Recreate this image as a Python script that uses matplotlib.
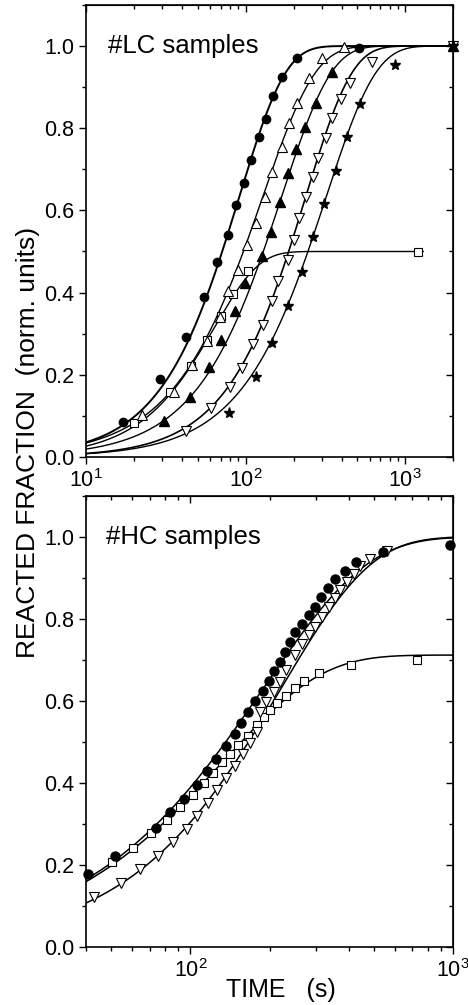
import numpy as np
import matplotlib
matplotlib.use("Agg")
import matplotlib.pyplot as plt
from matplotlib.ticker import MultipleLocator, NullFormatter, LogLocator

plt.rcParams["font.family"] = ["Liberation Sans", "DejaVu Sans"]
plt.rcParams["mathtext.default"] = "regular"

# ---- #LC samples (top panel) ----
lc_circle_t = [17.1, 29.3, 42.4, 55.2, 66.4, 77.1, 87.4, 98.2, 108.6, 121.3, 134.9, 149.3, 170.2, 211.5, 511]
lc_circle_f = [0.086, 0.189, 0.291, 0.389, 0.474, 0.540, 0.612, 0.666, 0.722, 0.779, 0.822, 0.878, 0.925, 0.972, 0.996]

lc_tri_up_t = [22.4, 35.4, 46.2, 57.4, 69.6, 77.8, 89.5, 102.5, 115.6, 131.6, 147.2, 168.4, 187.2, 211.5, 250, 303.6, 415]
lc_tri_up_f = [0.102, 0.159, 0.224, 0.283, 0.340, 0.405, 0.455, 0.517, 0.569, 0.633, 0.694, 0.755, 0.812, 0.861, 0.921, 0.970, 0.998]

lc_tri_fill_t = [30.9, 44.6, 58.8, 70.6, 86.5, 98.6, 127.4, 145.1, 164.3, 185.6, 206.3, 235, 275.5, 347.5, 2000]
lc_tri_fill_f = [0.088, 0.147, 0.220, 0.285, 0.355, 0.423, 0.489, 0.548, 0.621, 0.690, 0.749, 0.804, 0.861, 0.937, 1.0]

lc_tri_down_t = [42.4, 60.9, 79.7, 94.8, 111.2, 127.9, 147.2, 160.6, 184.5, 201.3, 216.4, 238.5, 265, 286.6,
                 318.6, 347.5, 395.6, 451, 617.6, 2000]
lc_tri_down_f = [0.064, 0.118, 0.170, 0.217, 0.275, 0.321, 0.380, 0.429, 0.479, 0.528, 0.581, 0.632, 0.682, 0.728,
                 0.775, 0.824, 0.870, 0.911, 0.962, 1.0]

lc_star_t = [78.5, 116.1, 147.2, 184.5, 225, 265, 310.7, 371.7, 431.8, 523.4, 865, 2000]
lc_star_f = [0.108, 0.195, 0.278, 0.367, 0.451, 0.535, 0.616, 0.696, 0.778, 0.858, 0.954, 1.0]

lc_square_t = [20.1, 33.4, 45.7, 57.4, 70.3, 83.2, 103.4, 1213]
lc_square_f = [0.082, 0.159, 0.221, 0.285, 0.343, 0.396, 0.452, 0.498]

# Avrami fit parameters (amplitude, tau [s], exponent), estimated from the curves
lc_fit_amp = [1.0, 1.0, 1.0, 1.0, 1.0, 0.5]
lc_fit_tau = [91.2, 128, 168, 238, 320, 64]
lc_fit_n = [1.5, 1.32, 1.4, 1.5, 1.4, 1.57]
lc_fit_tmax = [2000, 2000, 2000, 2000, 2000, 1300]
lc_fit_lw = [1.4, 1.0, 1.0, 1.2, 1.0, 1.0]

# ---- #HC samples (bottom panel) ----
hc_circle_t = [40.7, 51.4, 73.6, 83.9, 94.3, 106.0, 115.7, 125.6, 136.7, 147.4, 156.3, 166.2, 176.6, 189.0, 198.5,
               208.6, 219.9, 228.4, 239.9, 250.7, 265.9, 281.8, 297.0, 314.8, 334.0, 355.9, 386.1, 427.7, 543.3, 974]
hc_circle_f = [0.178, 0.222, 0.291, 0.329, 0.361, 0.395, 0.430, 0.459, 0.491, 0.520, 0.547, 0.574, 0.601, 0.624,
               0.649, 0.674, 0.696, 0.719, 0.743, 0.768, 0.788, 0.810, 0.830, 0.854, 0.875, 0.898, 0.918, 0.938,
               0.963, 0.980]

hc_square_t = [50.4, 60.5, 70.5, 81.5, 91.6, 101.8, 112.3, 122.0, 132.4, 141.9, 151.3, 165.2, 179.3, 190.0, 200.3,
               213.6, 230.4, 249.3, 271.4, 307.5, 408.3, 731.6]
hc_square_f = [0.207, 0.241, 0.277, 0.310, 0.342, 0.371, 0.399, 0.424, 0.450, 0.471, 0.493, 0.515, 0.541, 0.560,
               0.578, 0.596, 0.612, 0.631, 0.649, 0.669, 0.688, 0.700]

hc_tri_t = [42.9, 54.2, 64.2, 75.1, 85.9, 96.6, 106.0, 116.3, 126.3, 136.7, 148.3, 158.7, 168.1, 179.3, 184.6,
            194.5, 207.4, 218.6, 231.2, 250.7, 265.9, 281.8, 297.0, 316.8, 335.7, 353.8, 371.8, 394.3, 417.8,
            443.0, 483.3, 559.7]
hc_tri_f = [0.123, 0.155, 0.190, 0.223, 0.255, 0.288, 0.320, 0.352, 0.383, 0.413, 0.442, 0.471, 0.497, 0.525,
            0.574, 0.598, 0.623, 0.647, 0.676, 0.712, 0.738, 0.761, 0.781, 0.806, 0.829, 0.850, 0.871, 0.890,
            0.909, 0.928, 0.946, 0.967]

hc_fit_amp = [1.0, 0.712, 1.0]
hc_fit_tau = [190, 132, 222]
hc_fit_n = [1.1, 1.15, 1.27]


def avrami(t, amp, tau, n):
    return amp * (1 - np.exp(-(t / tau) ** n))


def style_axis(ax, xmin, xmax):
    ax.set_xscale("log")
    ax.set_xlim(xmin, xmax)
    ax.set_ylim(0, 1.1)
    ax.yaxis.set_major_locator(MultipleLocator(0.2))
    ax.yaxis.set_minor_locator(MultipleLocator(0.1))
    ax.yaxis.set_major_formatter(plt.FormatStrFormatter("%.1f"))
    ax.xaxis.set_major_locator(LogLocator(base=10))
    ax.xaxis.set_minor_locator(LogLocator(base=10, subs=np.arange(2, 10)))
    ax.xaxis.set_minor_formatter(NullFormatter())
    ax.tick_params(which="both", direction="out", top=False, right=False, labelsize=15.5, width=1.0)
    ax.tick_params(which="major", length=5)
    ax.tick_params(which="minor", length=3)
    for side in ["left", "right", "top", "bottom"]:
        ax.spines[side].set_linewidth(1.2)
    # inward ticks on top and right
    sec_x = ax.secondary_xaxis("top")
    sec_x.xaxis.set_major_locator(LogLocator(base=10))
    sec_x.xaxis.set_minor_locator(LogLocator(base=10, subs=np.arange(2, 10)))
    sec_x.tick_params(which="both", direction="in", labeltop=False, width=1.0)
    sec_x.tick_params(which="major", length=5)
    sec_x.tick_params(which="minor", length=3)
    sec_y = ax.secondary_yaxis("right")
    sec_y.yaxis.set_major_locator(MultipleLocator(0.2))
    sec_y.yaxis.set_minor_locator(MultipleLocator(0.1))
    sec_y.tick_params(which="both", direction="in", labelright=False, width=1.0)
    sec_y.tick_params(which="major", length=5)
    sec_y.tick_params(which="minor", length=3)


fig = plt.figure(figsize=(4.68, 10.05), dpi=100)

# Top panel
ax1 = fig.add_axes([0.1838, 0.5453, 0.7842, 0.4498])
style_axis(ax1, 10, 2000)

for amp, tau, n, tmax, lw in zip(lc_fit_amp, lc_fit_tau, lc_fit_n, lc_fit_tmax, lc_fit_lw):
    t = np.geomspace(10, tmax, 300)
    ax1.plot(t, avrami(t, amp, tau, n), color="black", lw=lw)

mk = dict(linestyle="none", color="black", clip_on=False)
ax1.plot(lc_square_t, lc_square_f, marker="s", ms=5.5, mfc="white", mew=0.8, **mk)
ax1.plot(lc_tri_up_t, lc_tri_up_f, marker="^", ms=6.5, mfc="white", mew=0.8, **mk)
ax1.plot(lc_tri_down_t, lc_tri_down_f, marker="v", ms=6.5, mfc="white", mew=0.8, **mk)
ax1.plot(lc_circle_t, lc_circle_f, marker="o", ms=6.0, mfc="black", **mk)
ax1.plot(lc_tri_fill_t, lc_tri_fill_f, marker="^", ms=6.5, mfc="black", **mk)
ax1.plot(lc_star_t, lc_star_f, marker="*", ms=8.0, mfc="black", **mk)

ax1.text(0.06, 1.0, "#LC samples", transform=ax1.get_yaxis_transform(), fontsize=18.5, va="center", ha="left")

# Bottom panel
ax2 = fig.add_axes([0.1838, 0.0577, 0.7842, 0.4488])
style_axis(ax2, 40, 1000)

for amp, tau, n in zip(hc_fit_amp, hc_fit_tau, hc_fit_n):
    t = np.geomspace(40, 1000, 300)
    ax2.plot(t, avrami(t, amp, tau, n), color="black", lw=1.1)

ax2.plot(hc_square_t, hc_square_f, marker="s", ms=6.0, mfc="white", mew=0.8, **mk)
ax2.plot(hc_tri_t, hc_tri_f, marker="v", ms=6.5, mfc="white", mew=0.8, **mk)
ax2.plot(hc_circle_t, hc_circle_f, marker="o", ms=6.5, mfc="black", **mk)

ax2.text(0.054, 1.0, "#HC samples", transform=ax2.get_yaxis_transform(), fontsize=18.5, va="center", ha="left")

# Axis labels
fig.text(28 / 468, 1 - 442 / 1005, "REACTED FRACTION  (norm. units)", rotation=90,
         fontsize=19, va="center", ha="center")
fig.text(281 / 468, 1 - 990 / 1005, "TIME   (s)", fontsize=18, va="center", ha="center")

fig.savefig("out.png", dpi=100)
